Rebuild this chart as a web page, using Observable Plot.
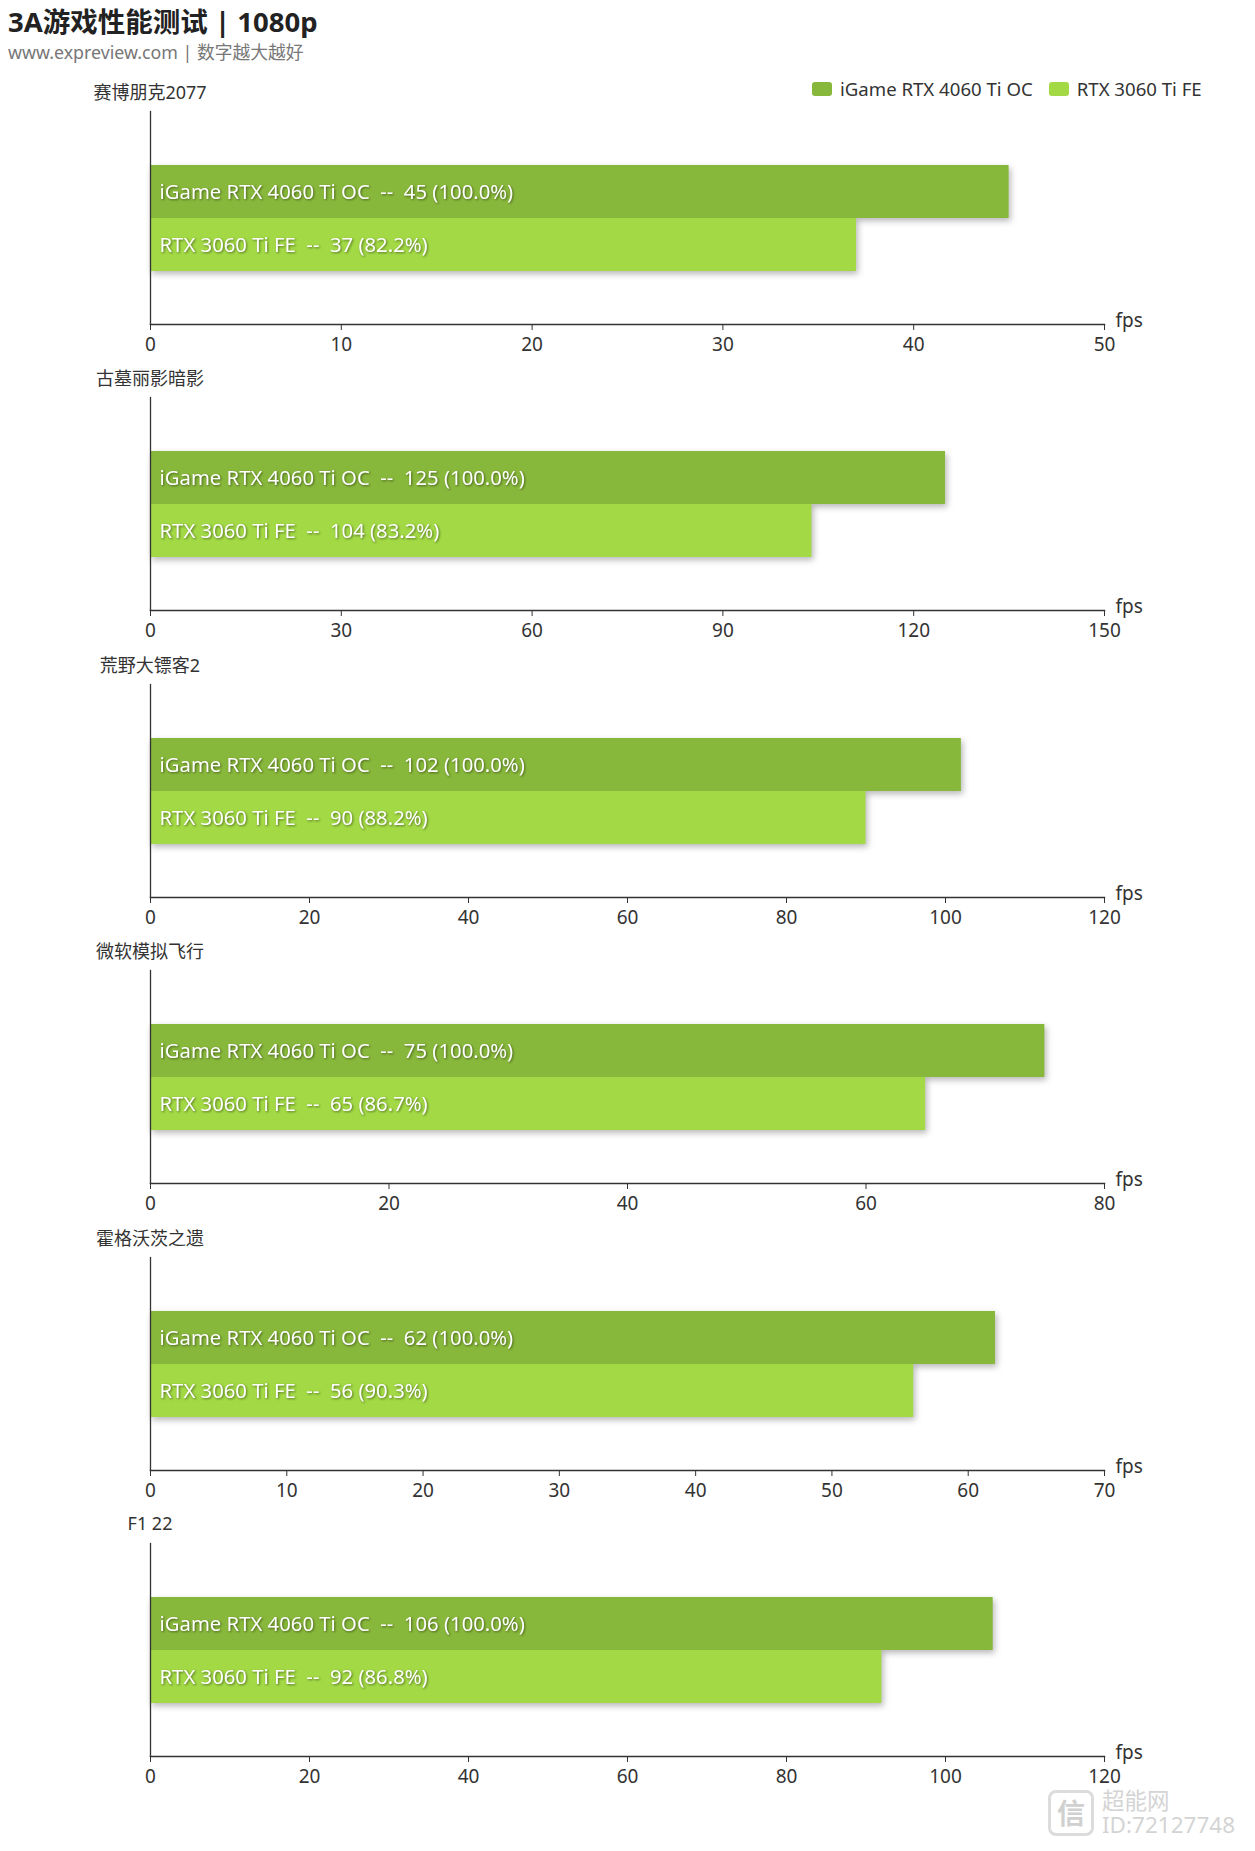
<!DOCTYPE html>
<html>
<head>
<meta charset="utf-8">
<script src="https://cdn.jsdelivr.net/npm/d3@7"></script>
<script src="https://cdn.jsdelivr.net/npm/@observablehq/plot@0.6"></script>
<style>
  html, body { margin: 0; padding: 0; background: #fff; }
  body { width: 1255px; height: 1851px; position: relative; overflow: hidden;
         font-family: "Noto Sans", "Noto Sans CJK SC", sans-serif; color: #333; }
  .abs { position: absolute; white-space: nowrap; }
  #title { left: 8px; top: 0px; font-size: 27.5px; font-weight: 700; color: #222; }
  #subtitle { left: 8px; top: 38px; font-size: 17.8px; color: #777; }
  #legend { left: 812px; top: 76px; font-size: 18.6px; color: #333; display: flex; align-items: center; }
  .sw { display: inline-block; width: 20px; height: 14px; border-radius: 3px; margin-right: 8px; }
  .item { display: flex; align-items: center; margin-right: 16px; }
  .gtitle { font-size: 18px; color: #333; transform: translate(-50%, -50%); }
  .panel { position: absolute; left: 0; }
  .panel svg { overflow: visible; }
  .bars { filter: drop-shadow(2px 3px 3px rgba(0,0,0,0.28)); }
  .blabels { filter: drop-shadow(1px 1px 1px rgba(0,0,0,0.45)); }
  #wm { right: 20px; top: 1789px; color: #d4d4d4; font-size: 22.5px; line-height: 24px; display: flex; align-items: center; }
  #wm .logo { width: 40px; height: 40px; border: 3px solid #dcdcdc; border-radius: 8px; margin-right: 8px;
              font-size: 28px; line-height: 40px; text-align: center; color: #d0d0d0; font-weight: 700; }
</style>
</head>
<body>
<div id="title" class="abs">3A游戏性能测试 | 1080p</div>
<div id="subtitle" class="abs">www.expreview.com | 数字越大越好</div>
<div id="legend" class="abs"></div>
<div id="charts"></div>
<div id="wm" class="abs"><div class="logo">信</div><div>超能网<br>ID:72127748</div></div>
<script>
const games = ["赛博朋克2077", "古墓丽影暗影", "荒野大镖客2", "微软模拟飞行", "霍格沃茨之遗", "F1 22"];
const cards = ["iGame RTX 4060 Ti OC", "RTX 3060 Ti FE"];
const fps4060 = [45, 125, 102, 75, 62, 106];
const fps3060 = [37, 104, 90, 65, 56, 92];
const pct4060 = [100.0, 100.0, 100.0, 100.0, 100.0, 100.0];
const pct3060 = [82.2, 83.2, 88.2, 86.7, 90.3, 86.8];
const xMax = [50, 150, 120, 80, 70, 120];
const xStep = [10, 30, 20, 20, 10, 20];
const unit = "fps";
const colors = ["#88b83b", "#a2d945"];

// legend
const legend = document.getElementById("legend");
cards.forEach((c, k) => {
  const it = document.createElement("div");
  it.className = "item";
  it.innerHTML = `<span class="sw" style="background:${colors[k]}"></span><span>${c}</span>`;
  legend.appendChild(it);
});

const sp = "\u00a0\u00a0";
const charts = document.getElementById("charts");
const pitch = 286.4;
games.forEach((g, i) => {
  const top = 79 + i * pitch;
  const data = [
    {card: cards[0], fps: fps4060[i], pct: pct4060[i]},
    {card: cards[1], fps: fps3060[i], pct: pct3060[i]}
  ];
  const t = document.createElement("div");
  t.className = "abs gtitle";
  t.style.left = "150px";
  t.style.top = (top + 12) + "px";
  t.textContent = g;
  charts.appendChild(t);

  const svg = Plot.plot({
    width: 1255,
    height: 290,
    marginLeft: 150,
    marginRight: 151,
    marginTop: 32,
    marginBottom: 45,
    style: {fontSize: "19px", color: "#333", fontFamily: "'Noto Sans', 'Noto Sans CJK SC', sans-serif", background: "transparent"},
    x: {domain: [0, xMax[i]], ticks: d3.range(0, xMax[i] + 1, xStep[i]), tickSize: 6, tickPadding: 6.5, label: null},
    y: {domain: cards, paddingInner: 0, paddingOuter: 1, axis: null},
    color: {domain: cards, range: colors},
    marks: [
      Plot.barX(data, {x: "fps", y: "card", fill: "card", className: "bars"}),
      Plot.text(data, {x: 0, y: "card", text: d => `${d.card}${sp}--${sp}${d.fps} (${d.pct.toFixed(1)}%)`,
        textAnchor: "start", dx: 9, fill: "white", fontSize: 20.3, className: "blabels"}),
      Plot.frame({anchor: "left", stroke: "#333", strokeWidth: 1.3}),
      Plot.frame({anchor: "bottom", stroke: "#333", strokeWidth: 1.5}),
      Plot.text([unit], {frameAnchor: "bottom-right", text: d => d, textAnchor: "start", lineAnchor: "middle", dx: 11, dy: -4, fill: "#333", fontSize: 19})
    ]
  });
  const wrap = document.createElement("div");
  wrap.className = "panel";
  wrap.style.top = top + "px";
  wrap.appendChild(svg);
  charts.appendChild(wrap);
});
</script>
</body>
</html>
